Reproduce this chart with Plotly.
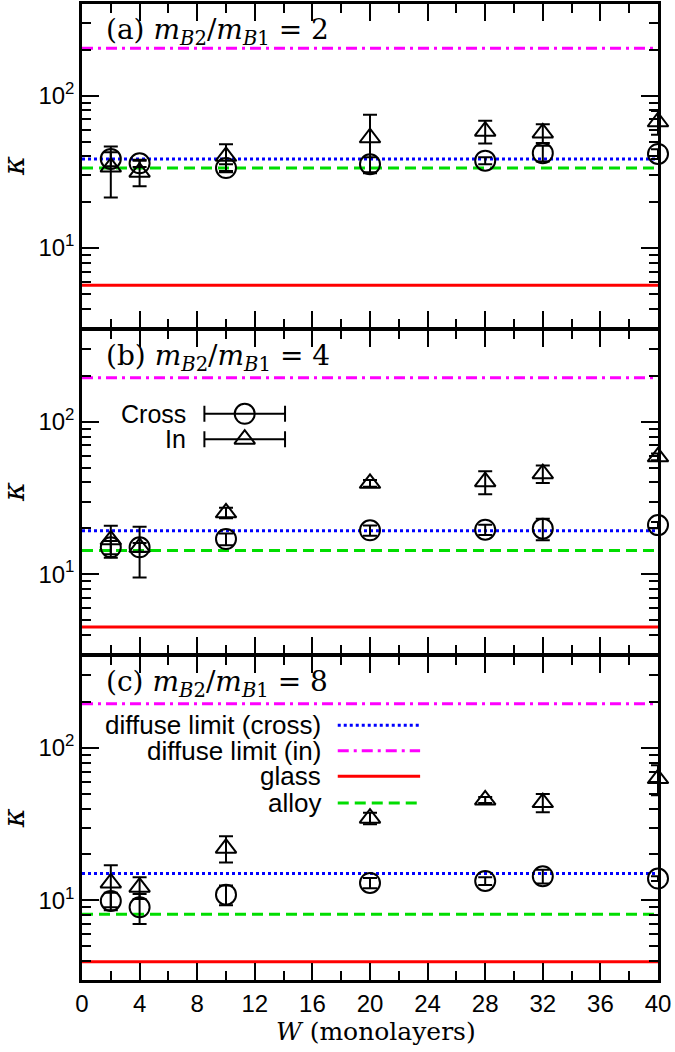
import math
import plotly.graph_objects as go

# ---------------- data ----------------
W = [2, 4, 10, 20, 28, 32, 40]

cross_a = [38.5, 36.0, 33.5, 35.5, 37.5, 42.0, 41.5]
cross_a_err = [4.0, 2.0, 2.0, 4.0, 2.0, 5.0, 3.0]
in_a = [34.0, 31.5, 40.0, 53.0, 58.5, 57.0, 67.5]
in_a_err = [12.5, 6.0, 8.0, 22.0, 10.0, 8.0, 12.0]

cross_b = [15.0, 15.0, 17.0, 19.4, 19.6, 19.9, 21.0]
cross_b_err = [1.5, 1.0, 1.5, 1.5, 1.5, 3.2, 1.0]
in_b = [16.8, 15.0, 25.3, 39.5, 40.5, 45.7, 59.0]
in_b_err = [4.0, 5.5, 2.0, 2.0, 7.0, 6.0, 3.0]

cross_c = [9.9, 9.0, 10.9, 13.0, 13.4, 14.4, 13.9]
cross_c_err = [1.3, 2.0, 1.6, 1.0, 0.8, 1.5, 0.5]
in_c = [13.0, 12.2, 22.0, 34.6, 45.6, 43.8, 63.0]
in_c_err = [4.0, 2.0, 4.3, 3.0, 2.0, 6.0, 14.0]

diffuse_cross = [38.5, 19.3, 15.0]
diffuse_in = [205.0, 195.0, 195.0]
glass = [5.7, 4.5, 3.96]
alloy = [33.5, 14.3, 8.1]

panel_letters = ["a", "b", "c"]
mass_ratios = [2, 4, 8]

x_range = [0, 40]
x_major = list(range(0, 41, 4))
y_range = [3, 400]
y_major = [10, 100]
y_major_text = ["10<sup>1</sup>", "10<sup>2</sup>"]
y_minor = [3, 4, 5, 6, 7, 8, 9, 20, 30, 40, 50, 60, 70, 80, 90, 200, 300, 400]

ref_names = ["diffuse limit (cross)", "diffuse limit (in)", "glass", "alloy"]
ref_colors = ["#0000ff", "#ff00ff", "#ff0000", "#00dd00"]
ref_dash = ["3px,3px", "11px,5px,3px,5px", "solid", "11px,6px"]

# legend key placement (panel b: data units, panel c: domain units)
LEG_B_X = 11.3
LEG_B_HALF = 2.8
LEG_B_Y = [113.0, 77.0]

SANS = "Liberation Sans"
SERIF = "DejaVu Serif"
LW = 2.5

panels = [
    (cross_a, cross_a_err, in_a, in_a_err),
    (cross_b, cross_b_err, in_b, in_b_err),
    (cross_c, cross_c_err, in_c, in_c_err),
]
ref_vals = [diffuse_cross, diffuse_in, glass, alloy]

# vertical geometry (px) -> domains; panels separated by one line width so borders coincide
MT, MB, FH = 1, 72, 1052
PH = FH - MT - MB
edges_px = [(MT, 327 - LW / 2), (327 + LW / 2, 654 - LW / 2), (654 + LW / 2, FH - MB)]


def frac(px):
    return (FH - MB - px) / PH


fig = go.Figure()
layout = dict(
    width=675, height=FH,
    margin=dict(l=82, r=17, t=MT, b=MB),
    paper_bgcolor="white", plot_bgcolor="white",
    showlegend=False,
    font=dict(family=SANS, size=24, color="black"),
    annotations=[], shapes=[],
)

for i, (cr, cre, inn, ine) in enumerate(panels):
    n = i + 1
    xa = "x" if n == 1 else f"x{n}"
    ya = "y" if n == 1 else f"y{n}"
    for k in range(4):
        fig.add_trace(go.Scatter(
            x=x_range, y=[ref_vals[k][i]] * 2, mode="lines",
            line=dict(color=ref_colors[k], width=3, dash=ref_dash[k]),
            xaxis=xa, yaxis=ya, hoverinfo="skip"))
    fig.add_trace(go.Scatter(
        x=W, y=cr, mode="markers", cliponaxis=False,
        marker=dict(symbol="circle-open", size=20, color="black", line=dict(width=2)),
        error_y=dict(type="data", array=cre, color="black", thickness=2, width=7),
        xaxis=xa, yaxis=ya))
    fig.add_trace(go.Scatter(
        x=W, y=inn, mode="markers", cliponaxis=False,
        marker=dict(symbol="triangle-up-open", size=18, color="black", line=dict(width=2)),
        error_y=dict(type="data", array=ine, color="black", thickness=2, width=7),
        xaxis=xa, yaxis=ya))

    top_px, bot_px = edges_px[i]
    axis_common = dict(showline=True, linecolor="black", linewidth=LW, mirror="ticks",
                       ticks="inside", tickcolor="black", tickwidth=2, showgrid=False,
                       zeroline=False)
    layout["xaxis" if n == 1 else f"xaxis{n}"] = dict(
        **axis_common, domain=[0, 1], anchor=ya, range=x_range,
        tickmode="array", tickvals=x_major, ticklen=17,
        minor=dict(ticks="inside", ticklen=9, tickwidth=2, tickcolor="black",
                   tickmode="linear", tick0=0, dtick=2, showgrid=False),
        showticklabels=(n == 3), tickfont=dict(family=SANS, size=24),
    )
    layout["yaxis" if n == 1 else f"yaxis{n}"] = dict(
        **axis_common, domain=[max(0, frac(bot_px)), min(1, frac(top_px))], anchor=xa,
        type="log", range=[math.log10(y_range[0]), math.log10(y_range[1])],
        tickmode="array", tickvals=y_major, ticktext=y_major_text, ticklen=17,
        minor=dict(ticks="inside", ticklen=9, tickwidth=2, tickcolor="black",
                   tickmode="array", tickvals=y_minor, showgrid=False),
        tickfont=dict(family=SANS, size=24),
    )
    layout["annotations"].append(dict(
        xref=f"{xa} domain", yref=f"{ya} domain", x=0.039, y=0.915,
        xanchor="left", yanchor="middle", showarrow=False,
        text=f"({panel_letters[i]}) <i>m</i><sub><i>B</i>2</sub>/<i>m</i><sub><i>B</i>1</sub> = {mass_ratios[i]}",
        font=dict(family=SERIF, size=28, color="black")))
    layout["annotations"].append(dict(
        xref="paper", yref=f"{ya} domain", x=-0.118, y=0.5, textangle=-90,
        xanchor="center", yanchor="middle", showarrow=False, text="<i>κ</i>",
        font=dict(family=SERIF, size=29, color="black")))

# legend in panel (b)
for j, (name, sym) in enumerate([("Cross", "circle-open"), ("In", "triangle-up-open")]):
    fig.add_trace(go.Scatter(
        x=[LEG_B_X], y=[LEG_B_Y[j]], mode="markers",
        marker=dict(symbol=sym, size=20 if j == 0 else 18, color="black", line=dict(width=2)),
        error_x=dict(type="data", array=[LEG_B_HALF], color="black", thickness=2, width=8),
        xaxis="x2", yaxis="y2", hoverinfo="skip"))
    layout["annotations"].append(dict(
        xref="x2 domain", yref="y2", x=0.184, y=math.log10(LEG_B_Y[j]),
        xanchor="right", yanchor="middle", showarrow=False, text=name,
        font=dict(family=SANS, size=25, color="black")))

# legend in panel (c)
leg_c_y = [0.787, 0.708, 0.629, 0.547]
for k in range(4):
    layout["annotations"].append(dict(
        xref="x3 domain", yref="y3 domain", x=0.418, y=leg_c_y[k],
        xanchor="right", yanchor="middle", showarrow=False, text=ref_names[k],
        font=dict(family=SANS, size=26, color="black")))
    layout["shapes"].append(dict(
        type="line", xref="x3 domain", yref="y3 domain",
        x0=0.444, x1=0.587, y0=leg_c_y[k], y1=leg_c_y[k],
        line=dict(color=ref_colors[k], width=3, dash=ref_dash[k])))

layout["annotations"].append(dict(
    xref="paper", yref="paper", x=0.51, y=frac(1032), xanchor="center", yanchor="middle",
    showarrow=False, text="<i>W</i> (monolayers)",
    font=dict(family=SERIF, size=25, color="black")))

fig.update_layout(**layout)
fig.write_html("out.html", config={"displayModeBar": False},
               post_script="document.body.style.margin='0';")
